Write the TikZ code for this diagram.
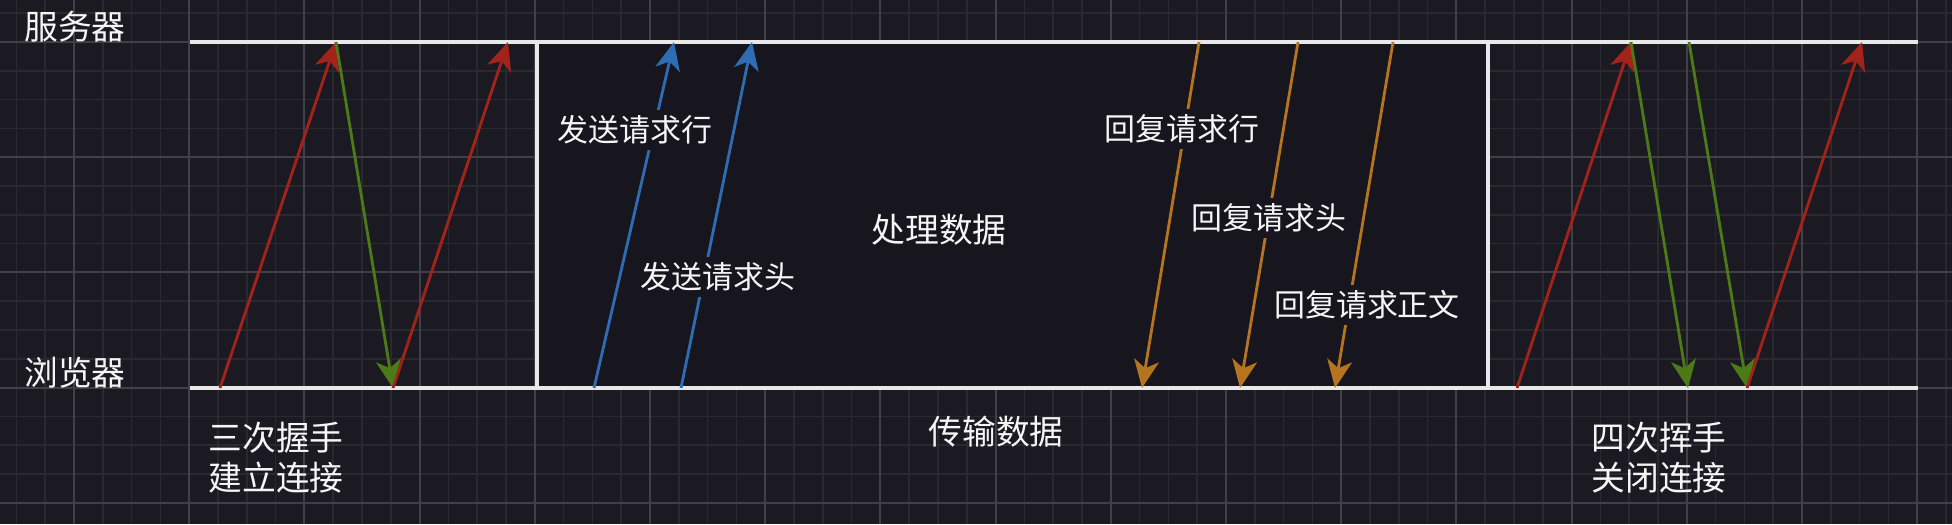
\documentclass[tikz,border=0pt]{standalone}
\usepackage{fontspec}
\setmainfont{Noto Sans CJK SC}
\usetikzlibrary{arrows.meta}
\definecolor{bgcol}{RGB}{27,26,34}
\definecolor{boxcol}{RGB}{23,21,30}
\definecolor{gridminor}{RGB}{42,41,48}
\definecolor{gridmajor}{RGB}{64,64,70}
\definecolor{linecol}{RGB}{232,232,232}
\definecolor{txtcol}{RGB}{245,245,245}
\definecolor{synred}{RGB}{163,35,27}
\definecolor{ackgreen}{RGB}{76,122,22}
\definecolor{reqblue}{RGB}{46,109,180}
\definecolor{resorange}{RGB}{181,116,32}

\begin{document}
\begin{tikzpicture}[
  x=0.01cm, y=-0.01cm,
  timeline/.style={draw=linecol, line width=0.9pt},
  arr/.style={-{Stealth[length=0.28cm, width=0.25cm, inset=0.08cm]}, line width=0.8pt},
  redarr/.style={arr, draw=synred, fill=synred},
  greenarr/.style={arr, draw=ackgreen, fill=ackgreen},
  bluearr/.style={arr, draw=reqblue, fill=reqblue},
  orangearr/.style={arr, draw=resorange, fill=resorange},
  steplabel/.style={text=txtcol, fill=boxcol, inner sep=1.5pt, font=\fontsize{8.8pt}{10pt}\selectfont},
  phaselabel/.style={text=txtcol, inner sep=0pt, align=left, font=\fontsize{9.6pt}{11.4pt}\selectfont},
]

%% Background and grid
\useasboundingbox (0,0) rectangle (1952,524);
\fill[bgcol] (0,0) rectangle (1952,524);
\foreach \k in {-2,...,65}
  \draw[gridminor, line width=0.45pt] ({74+28.8*\k},0) -- ({74+28.8*\k},524);
\foreach \k in {-1,...,16}
  \draw[gridminor, line width=0.45pt] (0,{42+28.8*\k}) -- (1952,{42+28.8*\k});
\foreach \k in {0,...,16}
  \draw[gridmajor, line width=0.55pt] ({74+115.2*\k},0) -- ({74+115.2*\k},524);
\foreach \k in {0,...,4}
  \draw[gridmajor, line width=0.55pt] (0,{42+115.2*\k}) -- (1952,{42+115.2*\k});

%% Data transfer box
\fill[boxcol] (537,42) rectangle (1488,388);

%% Time lines
\node[phaselabel] (srv) at (75,27)  {服务器};
\node[phaselabel] (brw) at (75,373) {浏览器};
\coordinate (srvL) at (190,42);
\coordinate (srvR) at (1918,42);
\coordinate (brwL) at (190,388);
\coordinate (brwR) at (1918,388);
\draw[timeline] (srvL) -- (srvR);
\draw[timeline] (brwL) -- (brwR);
\draw[timeline] (537,42) -- (537,388);
\draw[timeline] (1488,42) -- (1488,388);

%% Three-way handshake
\coordinate (h1) at (220,388);
\coordinate (h2) at (336,42);
\coordinate (h3) at (393,388);
\coordinate (h4) at (508,42);
\draw[redarr] (h1) -- (h2);
\draw[greenarr] (h2) -- (h3);
\draw[redarr] (h3) -- (h4);

%% Requests
\coordinate (q1b) at (594,388);
\coordinate (q1t) at (674,42);
\coordinate (q2b) at (681,388);
\coordinate (q2t) at (752,42);
\draw[bluearr] (q1b) -- (q1t);
\draw[bluearr] (q2b) -- (q2t);

%% Responses
\coordinate (r1t) at (1199,42);
\coordinate (r1b) at (1142,388);
\coordinate (r2t) at (1298,42);
\coordinate (r2b) at (1240,388);
\coordinate (r3t) at (1393,42);
\coordinate (r3b) at (1335,388);
\draw[orangearr] (r1t) -- (r1b);
\draw[orangearr] (r2t) -- (r2b);
\draw[orangearr] (r3t) -- (r3b);

%% Four-way wave
\coordinate (c1) at (1517,388);
\coordinate (c2) at (1631,42);
\coordinate (c3) at (1688,388);
\coordinate (c4) at (1689,42);
\coordinate (c5) at (1747,388);
\coordinate (c6) at (1862,42);
\draw[redarr] (c1) -- (c2);
\draw[greenarr] (c2) -- (c3);
\draw[greenarr] (c4) -- (c5);
\draw[redarr] (c5) -- (c6);

%% Labels
\node[steplabel] (reqline) at (635,130)  {发送请求行};
\node[steplabel] (reqhead) at (718,277)  {发送请求头};
\node[phaselabel] (proc)   at (939,230)  {处理数据};
\node[steplabel] (resline) at (1182,129) {回复请求行};
\node[steplabel] (reshead) at (1269,218) {回复请求头};
\node[steplabel] (resbody) at (1367,305) {回复请求正文};
\node[phaselabel] (trans)  at (996,432)  {传输数据};
\node[phaselabel] (open)   at (276,458)  {三次握手\\建立连接};
\node[phaselabel] (close)  at (1659,458) {四次挥手\\关闭连接};

\end{tikzpicture}
\end{document}
